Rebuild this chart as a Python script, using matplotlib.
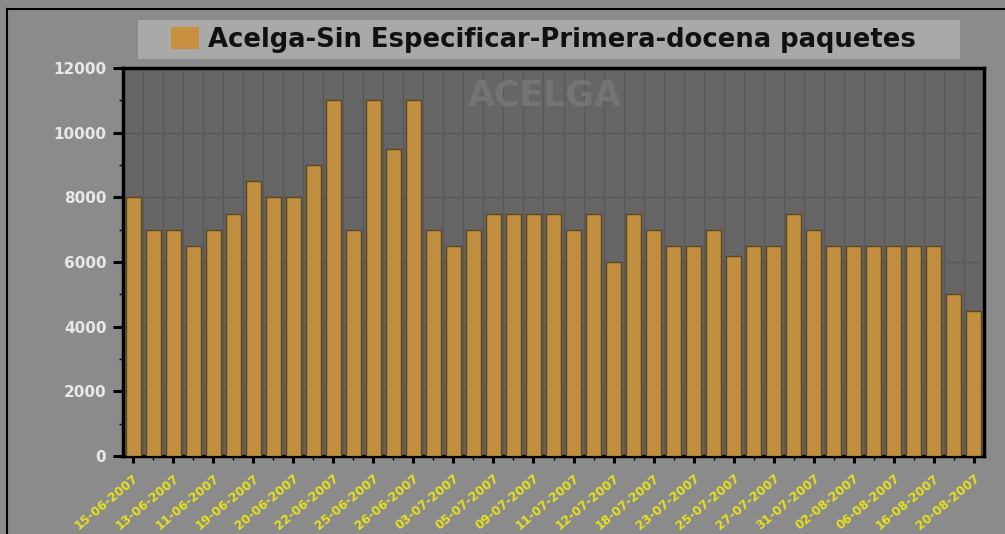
import matplotlib
matplotlib.use("Agg")
import matplotlib.pyplot as plt
from matplotlib.ticker import MultipleLocator, FixedLocator
from matplotlib.patches import Rectangle
from matplotlib.lines import Line2D

labels = ["15-06-2007", "13-06-2007", "11-06-2007", "19-06-2007", "20-06-2007",
          "22-06-2007", "25-06-2007", "26-06-2007", "03-07-2007", "05-07-2007",
          "09-07-2007", "11-07-2007", "12-07-2007", "18-07-2007", "23-07-2007",
          "25-07-2007", "27-07-2007", "31-07-2007", "02-08-2007", "06-08-2007",
          "16-08-2007", "20-08-2007"]
values = [8000, 7000, 7000, 6500, 7000, 7500, 8500, 8000, 8000, 9000, 11000,
          7000, 11000, 9500, 11000, 7000, 6500, 7000, 7500, 7500, 7500, 7500,
          7000, 7500, 6000, 7500, 7000, 6500, 6500, 7000, 6200, 6500, 6500,
          7500, 7000, 6500, 6500, 6500, 6500, 6500, 6500, 5000, 4500]
series_name = "Acelga-Sin Especificar-Primera-docena paquetes"
watermark = "ACELGA"

W, H = 1005, 534
fig = plt.figure(figsize=(W / 100, H / 100), dpi=100)
fig.patch.set_facecolor("#8b8b8b")
ax = fig.add_axes([123 / W, (H - 456) / H, 861 / W, 388 / H])
ax.set_facecolor("#666666")

x = list(range(len(values)))
ax.bar(x, values, width=0.75, color="#c08f40", edgecolor="#5e4520", linewidth=1.0, zorder=3)

ax.set_xlim(-0.5, len(values) - 0.5)
ax.set_ylim(0, 12000)
ax.yaxis.set_major_locator(MultipleLocator(2000))
ax.yaxis.set_minor_locator(MultipleLocator(1000))
ax.xaxis.set_major_locator(FixedLocator(list(range(0, len(values), 2))))
ax.xaxis.set_minor_locator(FixedLocator(list(range(1, len(values), 2))))
ax.set_xticklabels(labels, rotation=40, ha="right", rotation_mode="anchor",
                   color="#e6e21c", fontsize=8.8, fontweight="bold",
                   family="DejaVu Sans")
for lbl in ax.get_yticklabels():
    lbl.set_color("#e8e8e8")
    lbl.set_fontweight("bold")
    lbl.set_fontsize(11)
    lbl.set_family("DejaVu Sans")

# grid: horizontal at major y ticks, vertical between categories
ax.grid(True, which="major", axis="y", color="#595959", linewidth=1, zorder=0)
ax.vlines([i + 0.5 for i in x[:-1]], 0, 1, transform=ax.get_xaxis_transform(),
          color="#595959", linewidth=1, zorder=0)

ax.tick_params(axis="y", which="major", length=7, width=2.2, color="black", pad=5)
ax.tick_params(axis="y", which="minor", length=3, width=1, color="black")
ax.tick_params(axis="x", which="major", length=5, width=2.2, color="black", pad=6)
ax.tick_params(axis="x", which="minor", length=3, width=1, color="black")
for s in ax.spines.values():
    s.set_color("black")
    s.set_linewidth(2.5)

ax.text(0.49, 1 - 11 / 388, watermark, transform=ax.transAxes, ha="center", va="top",
        fontsize=25, fontweight="bold", color="#747474", zorder=1)

# legend box
fig.patches.append(Rectangle((138 / W, 1 - 59 / H), (960 - 138) / W, 39 / H,
                             transform=fig.transFigure, facecolor="#a9a9a9",
                             edgecolor="none", zorder=0))
fig.patches.append(Rectangle((171 / W, 1 - 49 / H), 28 / W, 22 / H,
                             transform=fig.transFigure, facecolor="#c8903e",
                             edgecolor="none", zorder=1))
fig.text(208 / W, 1 - 47 / H, series_name, ha="left", va="baseline",
         fontsize=18.6, fontweight="bold", color="#111111", family="DejaVu Sans")

# outer frame (top and left edges)
fig.lines.append(Line2D([7 / W, 1], [1 - 9 / H, 1 - 9 / H], transform=fig.transFigure,
                        color="black", linewidth=1.5))
fig.lines.append(Line2D([7 / W, 7 / W], [0, 1 - 9 / H], transform=fig.transFigure,
                        color="black", linewidth=1.5))

fig.savefig("out.png", dpi=100, facecolor=fig.get_facecolor())
